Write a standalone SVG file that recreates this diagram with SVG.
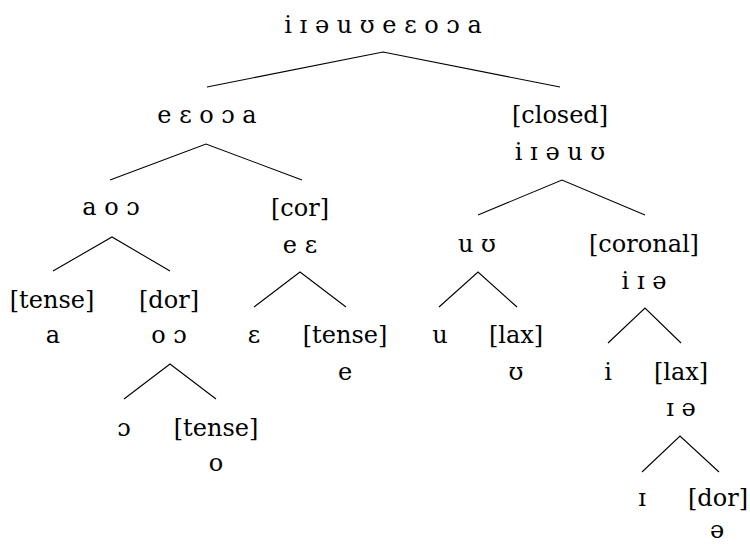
<svg xmlns="http://www.w3.org/2000/svg" width="750" height="544" viewBox="0 0 750 544">
<style>
text{font-family:"DejaVu Serif","Liberation Serif",serif;font-size:24px;fill:#000;text-anchor:middle}
.e{fill:none;stroke:#000;stroke-width:1.1}
</style>
<rect width="750" height="544" fill="#fff"/>
<g id="connectors">
<polyline class="e" points="207,87 383,52 560,87"/>
<polyline class="e" points="110,180 206,144 302,180"/>
<polyline class="e" points="478,215 562,180 645,215"/>
<polyline class="e" points="53,271 112,237 170,271"/>
<polyline class="e" points="254,307 300,272 346,307"/>
<polyline class="e" points="439,307 478,272 517,307"/>
<polyline class="e" points="608,343 645,308 681,343"/>
<polyline class="e" points="124,399 170,364 216,399"/>
<polyline class="e" points="642,472 680,436 719,472"/>
</g>
<g id="root"><text x="383" y="33">i ɪ ə u ʊ e ɛ o ɔ a</text></g>
<g id="n1"><text x="207" y="123">e ɛ o ɔ a</text></g>
<g id="n2"><text x="560" y="123">[closed]</text><text x="560" y="160">i ɪ ə u ʊ</text></g>
<g id="n3"><text x="111" y="215">a o ɔ</text></g>
<g id="n4"><text x="300" y="216">[cor]</text><text x="300" y="253">e ɛ</text></g>
<g id="n5"><text x="477" y="252">u ʊ</text></g>
<g id="n6"><text x="644" y="252">[coronal]</text><text x="644" y="289">i ɪ ə</text></g>
<g id="n7"><text x="52" y="308">[tense]</text><text x="53" y="343">a</text></g>
<g id="n8"><text x="169" y="308">[dor]</text><text x="169" y="343">o ɔ</text></g>
<g id="n9"><text x="254" y="343">ɛ</text></g>
<g id="n10"><text x="345" y="343">[tense]</text><text x="345" y="380">e</text></g>
<g id="n11"><text x="440" y="343">u</text></g>
<g id="n12"><text x="516" y="343">[lax]</text><text x="516" y="380">ʊ</text></g>
<g id="n13"><text x="608" y="380">i</text></g>
<g id="n14"><text x="681" y="380">[lax]</text><text x="681" y="416">ɪ ə</text></g>
<g id="n15"><text x="124" y="436">ɔ</text></g>
<g id="n16"><text x="216" y="436">[tense]</text><text x="216" y="471">o</text></g>
<g id="n17"><text x="642" y="506">ɪ</text></g>
<g id="n18"><text x="718" y="506">[dor]</text><text x="717" y="538">ə</text></g>
</svg>
